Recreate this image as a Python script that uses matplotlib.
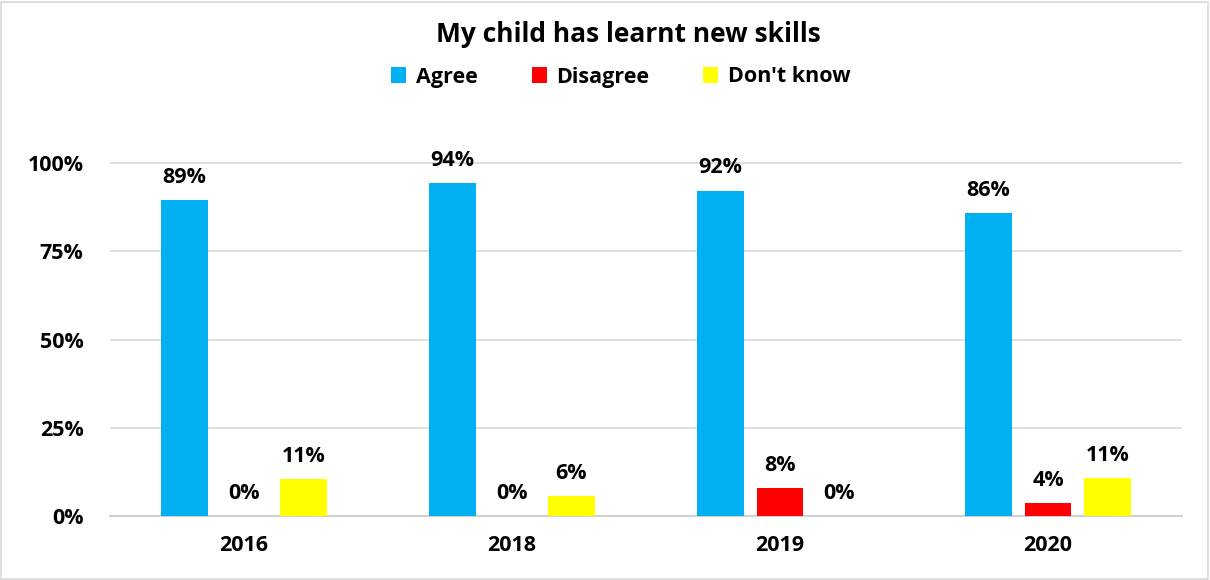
import matplotlib.pyplot as plt
import numpy as np

# data
years = ['2016', '2018', '2019', '2020']
agree = [89.5, 94.3, 92.2, 85.7]
disagree = [0, 0, 7.8, 3.6]
dont_know = [10.5, 5.7, 0, 10.7]

agree_lbl = ['89%', '94%', '92%', '86%']
disagree_lbl = ['0%', '0%', '8%', '4%']
dont_know_lbl = ['11%', '6%', '0%', '11%']

plt.rcParams['font.family'] = ['Open Sans', 'DejaVu Sans']
plt.rcParams['font.weight'] = 'bold'

fig = plt.figure(figsize=(12.1, 5.8), dpi=100)
# axes placed in pixel terms: left 110, right 1182, zero line y=516
ymax = 105
px_per_pct = 3.53
top_px = 516 - ymax * px_per_pct
ax = fig.add_axes([110 / 1210, 64 / 580, 1072 / 1210, (516 - top_px) / 580])

x = np.arange(len(years))
w = 0.175
off = 0.222
series = [
    (agree, agree_lbl, '#00B0F0', 'Agree', -off),
    (disagree, disagree_lbl, '#FF0000', 'Disagree', 0),
    (dont_know, dont_know_lbl, '#FFFF00', "Don't know", off),
]
for vals, lbls, col, name, dx in series:
    ax.bar(x + dx, vals, width=w, color=col, label=name, zorder=3)
    for xi, v, t in zip(x, vals, lbls):
        ax.text(xi + dx, v + 3.5, t, ha='center', va='bottom', fontsize=15.5,
                fontweight='bold', color='#000000')

ax.set_xlim(-0.5, 3.5)
ax.set_ylim(0, ymax)
ax.set_yticks([0, 25, 50, 75, 100])
ax.set_yticklabels(['0%', '25%', '50%', '75%', '100%'])
ax.set_xticks(x)
ax.set_xticklabels(years)
ax.tick_params(axis='both', length=0, labelsize=15.5)
ax.tick_params(axis='y', pad=19)
ax.tick_params(axis='x', pad=14)
for lb in ax.get_xticklabels() + ax.get_yticklabels():
    lb.set_fontweight('bold')
ax.grid(axis='y', color='#d9d9d9', linewidth=1.2, zorder=0)
for s in ['top', 'right', 'left']:
    ax.spines[s].set_visible(False)
ax.spines['bottom'].set_color('#d0d0d0')
ax.spines['bottom'].set_linewidth(1.5)

fig.text(628 / 1210, 1 - 35 / 580, 'My child has learnt new skills', ha='center',
         va='center', fontsize=19, fontweight='bold')
leg = fig.legend(loc='center', bbox_to_anchor=(621 / 1210, 1 - 77 / 580), ncol=3,
                 frameon=False, prop={'size': 15.5, 'weight': 'bold'},
                 handlelength=0.7, handleheight=0.7,
                 handletextpad=0.45, columnspacing=2.5)

# outer chart frame
fig.patches.append(plt.Rectangle((0.001, 0.002), 0.997, 0.995, transform=fig.transFigure,
                                 fill=False, edgecolor='#d9d9d9', linewidth=1.2))

plt.savefig('out.png', dpi=100)
plt.close()
